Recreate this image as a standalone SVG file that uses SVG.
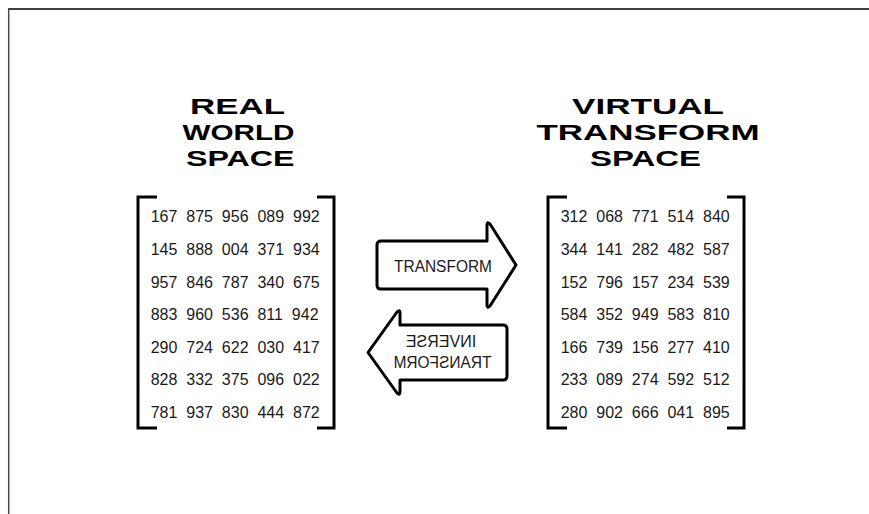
<svg xmlns="http://www.w3.org/2000/svg" width="869" height="514" viewBox="0 0 869 514">
<style>
.title{font-family:"Liberation Sans",Arial,sans-serif;font-weight:bold;font-size:22px;fill:#000}
.num{font-family:"Liberation Sans",Arial,sans-serif;font-size:16px;fill:#1a1a1a}
.lbl{font-family:"Liberation Sans",Arial,sans-serif;font-size:16px;fill:#1a1a1a;text-anchor:middle}
.br{fill:none;stroke:#000;stroke-width:3;stroke-linejoin:miter}
.arrow{fill:#fff;stroke:#000;stroke-width:3;stroke-linejoin:round}
</style>
<rect x="0" y="0" width="869" height="514" fill="#fff"/>
<g id="frame">
<line x1="8" y1="9" x2="869" y2="9" stroke="#000" stroke-width="1.5"/>
<line x1="8.7" y1="9" x2="8.7" y2="514" stroke="#484848" stroke-width="1.5"/>
</g>
<g id="left-title">
<text class="title" x="190" y="114.3" textLength="95" lengthAdjust="spacingAndGlyphs">REAL</text>
<text class="title" x="182.5" y="140" textLength="112" lengthAdjust="spacingAndGlyphs">WORLD</text>
<text class="title" x="186" y="165.7" textLength="108.5" lengthAdjust="spacingAndGlyphs">SPACE</text>
</g>
<g id="right-title">
<text class="title" x="572" y="114.3" textLength="152" lengthAdjust="spacingAndGlyphs">VIRTUAL</text>
<text class="title" x="536.5" y="140" textLength="223" lengthAdjust="spacingAndGlyphs">TRANSFORM</text>
<text class="title" x="590" y="165.7" textLength="111" lengthAdjust="spacingAndGlyphs">SPACE</text>
</g>
<g id="left-matrix">
<path class="br" d="M157,197 L138,197 L138,428 L157,428"/>
<path class="br" d="M317,197 L334,197 L334,428 L317,428"/>
<text class="num" xml:space="preserve" x="150.7" y="222.3">167  875  956  089  992</text>
<text class="num" xml:space="preserve" x="150.7" y="254.9">145  888  004  371  934</text>
<text class="num" xml:space="preserve" x="150.7" y="287.5">957  846  787  340  675</text>
<text class="num" xml:space="preserve" x="150.7" y="320.1">883  960  536  811  942</text>
<text class="num" xml:space="preserve" x="150.7" y="352.7">290  724  622  030  417</text>
<text class="num" xml:space="preserve" x="150.7" y="385.3">828  332  375  096  022</text>
<text class="num" xml:space="preserve" x="150.7" y="417.9">781  937  830  444  872</text>
</g>
<g id="right-matrix">
<path class="br" d="M567,197 L548,197 L548,428 L567,428"/>
<path class="br" d="M727,197 L744,197 L744,428 L727,428"/>
<text class="num" xml:space="preserve" x="560.7" y="222.3">312  068  771  514  840</text>
<text class="num" xml:space="preserve" x="560.7" y="254.9">344  141  282  482  587</text>
<text class="num" xml:space="preserve" x="560.7" y="287.5">152  796  157  234  539</text>
<text class="num" xml:space="preserve" x="560.7" y="320.1">584  352  949  583  810</text>
<text class="num" xml:space="preserve" x="560.7" y="352.7">166  739  156  277  410</text>
<text class="num" xml:space="preserve" x="560.7" y="385.3">233  089  274  592  512</text>
<text class="num" xml:space="preserve" x="560.7" y="417.9">280  902  666  041  895</text>
</g>
<g id="connectors">
<g id="transform-arrow">
<path class="arrow" d="M377,245 Q377,241 381,241 L487,241 L487,225 Q487,221 490,224 L516,265 L490,306 Q487,309 487,305 L487,289 L381,289 Q377,289 377,285 Z"/>
<text class="lbl" x="443" y="271.5" textLength="98" lengthAdjust="spacingAndGlyphs">TRANSFORM</text>
</g>
<g id="inverse-arrow">
<path class="arrow" d="M503,325 Q507,325 507,329 L507,376 Q507,380 503,380 L400,380 L400,392 Q400,396 397,393 L368,352.5 L397,312 Q400,309 400,313 L400,325 Z"/>
<g transform="matrix(-1 0 0 1 884 0)">
<text class="lbl" x="443" y="347">INVERSE</text>
<text class="lbl" x="441.5" y="367.5" textLength="98" lengthAdjust="spacingAndGlyphs">TRANSFORM</text>
</g>
</g>
</g>
</svg>
